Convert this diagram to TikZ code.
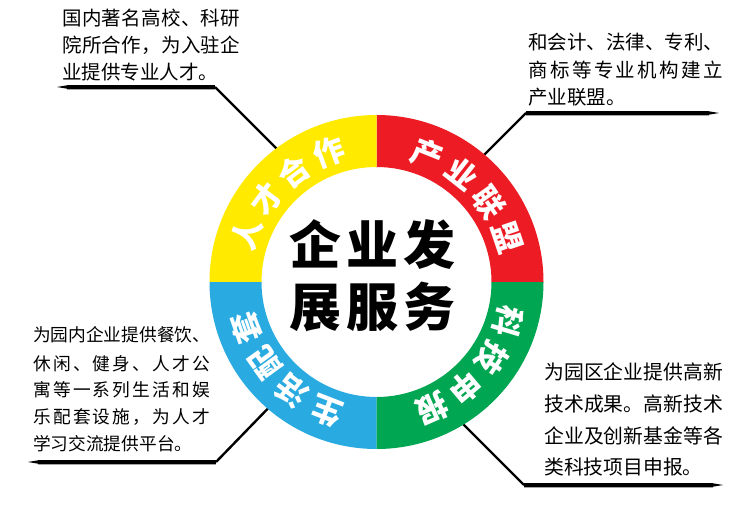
\documentclass[tikz,border=0pt]{standalone}
\usepackage{fontspec}
\newfontfamily\cjk{Noto Sans CJK SC}
\usetikzlibrary{calc}
\definecolor{ringY}{RGB}{255,234,0}
\definecolor{ringR}{RGB}{237,28,36}
\definecolor{ringG}{RGB}{0,166,81}
\definecolor{ringB}{RGB}{41,171,226}
\makeatletter
\def\spr@loop#1{\ifx\relax#1\else#1\hfill\expandafter\spr@loop\fi}
\newcommand\spreadto[2]{\makebox[#1][s]{\spr@loop#2\relax\unskip}}
\makeatother
\begin{document}
\begin{tikzpicture}[x=1pt,y=1pt,
  desc/.style={anchor=west,inner sep=0pt,font={\cjk\fontsize{#1}{#1}\selectfont},
    text height=0.88*#1pt,text depth=0.12*#1pt,text=black},
  ringlab/.style={inner sep=0pt,anchor=center,text=white,
    font={\cjk\bfseries\fontsize{31}{31}\selectfont},text height=27.3pt,text depth=3.7pt},
  titlelab/.style={inner sep=0pt,anchor=center,text=black,
    font={\cjk\bfseries\fontsize{52}{52}\selectfont},text height=45.8pt,text depth=6.2pt},
  leadH/.style={line width=3.4pt,black,line cap=butt},
  leadS/.style={line width=1.6pt,black!35,line cap=butt},
  leadD/.style={line width=2.4pt,black,line cap=butt}]
\fill[white] (0,0) rectangle (753,507);
\useasboundingbox (0,0) rectangle (753,507);
\coordinate (c) at (376.5,225);
% ---------- leader coordinates ----------
\coordinate (u1free) at (57,420);  \coordinate (u1tap) at (67,420);
\coordinate (u1bend) at (215,420); \coordinate (u1in) at (292,343);
\coordinate (u2free) at (719,394); \coordinate (u2tap) at (709,394);
\coordinate (u2bend) at (526,394); \coordinate (u2in) at (470,338);
\coordinate (u3free) at (28,45);   \coordinate (u3tap) at (38,45);
\coordinate (u3bend) at (216,45);  \coordinate (u3in) at (282,113);
\coordinate (u4free) at (723,22);  \coordinate (u4tap) at (713,22);
\coordinate (u4bend) at (524,22);  \coordinate (u4in) at (450,96);
% ---------- leaders ----------
\foreach \u in {u1,u2,u3,u4}{
  \draw[leadS] ($(\u tap)+(0,-2.3)$) -- ($(\u bend)+(0,-2.3)$);
  \draw[leadH] (\u tap) -- (\u bend);
  \fill[black] (\u free) -- ($(\u tap)+(0,1.7)$) -- ($(\u tap)+(0,-1.7)$) -- cycle;
  \draw[leadD] (\u bend) -- (\u in);
}
% ---------- ring ----------
\fill[ringR] ($(c)+(0:167pt)$) arc[start angle=0,end angle=90,radius=167pt]
  -- ($(c)+(90:115pt)$) arc[start angle=90,end angle=0,radius=115pt] -- cycle;
\fill[ringY] ($(c)+(90:167pt)$) arc[start angle=90,end angle=180,radius=167pt]
  -- ($(c)+(180:115pt)$) arc[start angle=180,end angle=90,radius=115pt] -- cycle;
\fill[ringB] ($(c)+(180:167pt)$) arc[start angle=180,end angle=270,radius=167pt]
  -- ($(c)+(270:115pt)$) arc[start angle=270,end angle=180,radius=115pt] -- cycle;
\fill[ringG] ($(c)+(270:167pt)$) arc[start angle=270,end angle=360,radius=167pt]
  -- ($(c)+(360:115pt)$) arc[start angle=360,end angle=270,radius=115pt] -- cycle;
% ---------- ring labels ----------
\foreach \ch/\ang [count=\i] in {人/159.75,才/143.25,合/126.75,作/110.25}
  \node[ringlab,rotate=\ang-90] (ly\i) at ($(c)+(\ang:138pt)$) {\ch};
\foreach \ch/\ang [count=\i] in {产/68.25,业/51.75,联/35.25,盟/18.75}
  \node[ringlab,rotate=\ang-90] (lr\i) at ($(c)+(\ang:138pt)$) {\ch};
\foreach \ch/\ang [count=\i] in {科/-16.75,技/-33.25,申/-49.75,报/-66.25}
  \node[ringlab,rotate=\ang-90] (lg\i) at ($(c)+(\ang:138pt)$) {\ch};
\foreach \ch/\ang [count=\i] in {生/-111.25,活/-127.75,配/-144.25,套/-160.75}
  \node[ringlab,rotate=\ang-90] (lb\i) at ($(c)+(\ang:138pt)$) {\ch};
% ---------- title ----------
\node[titlelab] (title1) at (372.5,262) {企\hspace{5.5pt}业\hspace{5.5pt}发};
\node[titlelab] (title2) at (372.5,200) {展\hspace{5.5pt}服\hspace{5.5pt}务};
% ---------- descriptions ----------
\node[desc=19.5] (d1a) at (62,488.5) {\spreadto{178pt}{国内著名高校、科研}};
\node[desc=19.5] (d1b) at (62,462) {\spreadto{178pt}{院所合作，为入驻企}};
\node[desc=19.5] (d1c) at (62,435.3) {业提供专业人才。};
\node[desc=19.5] (d2a) at (528,465.3) {\spreadto{195pt}{和会计、法律、专利、}};
\node[desc=19.5] (d2b) at (528,437) {\spreadto{195pt}{商标等专业机构建立}};
\node[desc=19.5] (d2c) at (528,410.3) {产业联盟。};
\node[desc=17.7] (d3a) at (33,172) {\spreadto{177pt}{为园内企业提供餐饮、}};
\node[desc=17.7] (d3b) at (33,143.7) {\spreadto{177pt}{休闲、健身、人才公}};
\node[desc=17.7] (d3c) at (33,117) {\spreadto{177pt}{寓等一系列生活和娱}};
\node[desc=17.7] (d3d) at (33,90.3) {\spreadto{177pt}{乐配套设施，为人才}};
\node[desc=17.7] (d3e) at (33,63.7) {学习交流提供平台。};
\node[desc=19.8] (d4a) at (544,134.6) {\spreadto{179pt}{为园区企业提供高新}};
\node[desc=19.8] (d4b) at (544,103) {\spreadto{179pt}{技术成果。高新技术}};
\node[desc=19.8] (d4c) at (544,71.3) {\spreadto{179pt}{企业及创新基金等各}};
\node[desc=19.8] (d4d) at (544,39.6) {类科技项目申报。};
\end{tikzpicture}
\end{document}
